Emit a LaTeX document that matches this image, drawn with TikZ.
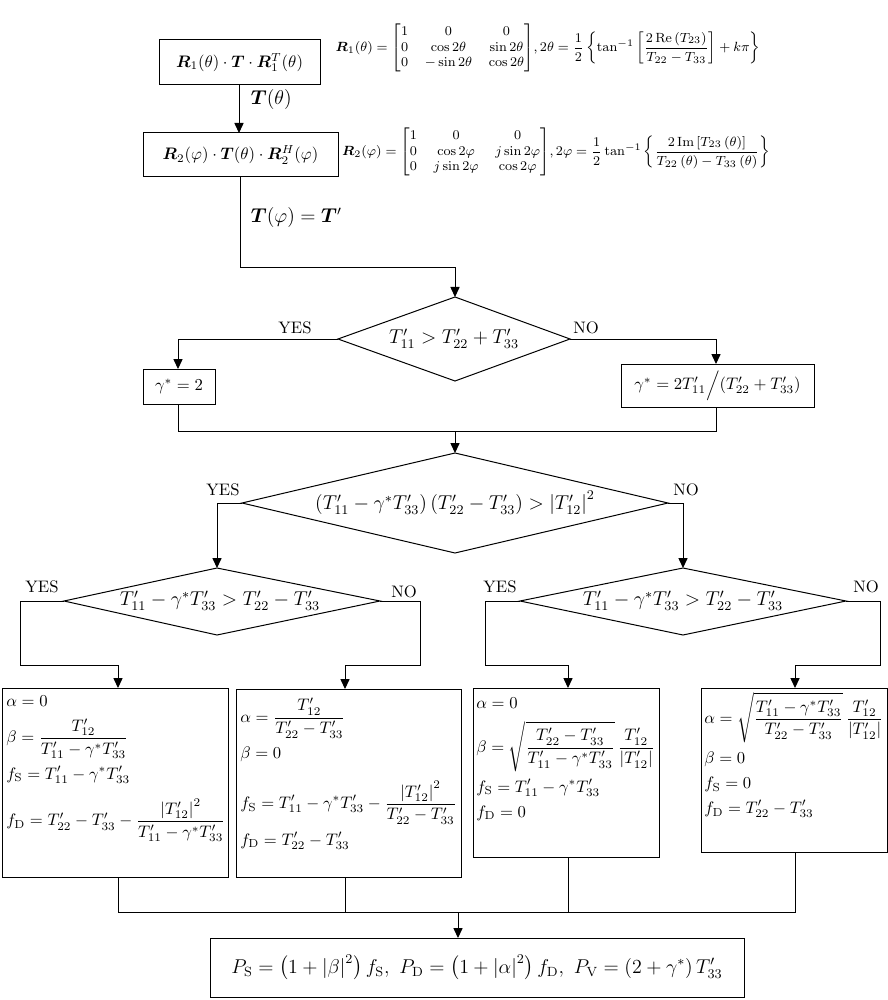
\documentclass[tikz,border=0pt]{standalone}
\usepackage{amsmath,amssymb,bm}
\usetikzlibrary{arrows.meta,shapes.geometric}
\begin{document}
\begin{tikzpicture}[x=0.6pt,y=-0.6pt,
 box/.style={draw,line width=0.6pt,inner sep=0pt},
 dia/.style={draw,line width=0.6pt},
 ln/.style={line width=0.6pt},
 ar/.style={line width=0.6pt,-{Triangle[length=6pt,width=5.5pt]}},
 lab/.style={font=\normalsize}]
\useasboundingbox (0,0) rectangle (887,1000);
% top boxes
\draw[box] (159,40) rectangle (320,85); \node (b1) at (239.5,62.5) {$\bm{R}_{1}\!\left(\theta\right)\cdot\bm{T}\cdot\bm{R}_{1}^{T}\!\left(\theta\right)$};
\node (f1) at (548,48) {\footnotesize$\bm{R}_{1}\!\left(\theta\right)=\begin{bmatrix}1&0&0\\0&\cos2\theta&\sin2\theta\\0&-\sin2\theta&\cos2\theta\end{bmatrix}\!,2\theta=\dfrac12\left\{\tan^{-1}\left[\dfrac{2\,\mathrm{Re}\left(T_{23}\right)}{T_{22}-T_{33}}\right]+k\pi\right\}$};
\draw[box] (143,133) rectangle (338,177); \node (b2) at (240.5,155) {$\bm{R}_{2}\!\left(\varphi\right)\cdot\bm{T}\!\left(\theta\right)\cdot\bm{R}_{2}^{H}\!\left(\varphi\right)$};
\node (f2) at (556,152) {\footnotesize$\bm{R}_{2}\!\left(\varphi\right)=\begin{bmatrix}1&0&0\\0&\cos2\varphi&j\sin2\varphi\\0&j\sin2\varphi&\cos2\varphi\end{bmatrix}\!,2\varphi=\dfrac12\tan^{-1}\left\{\dfrac{2\,\mathrm{Im}\left[T_{23}\left(\theta\right)\right]}{T_{22}\left(\theta\right)-T_{33}\left(\theta\right)}\right\}$};
\draw[ar] (239,85) -- (239,133);
\node[anchor=west] (l1) at (245,100) {\large$\bm{T}\!\left(\theta\right)$};
\draw[ar] (240,177) -- (240,268) -- (455,268) -- (455,297);
\node[anchor=west] (l2) at (245,218) {\large$\bm{T}\!\left(\varphi\right)=\bm{T}'$};
% diamond 1
\draw[dia] (455,297) -- (570,339) -- (455,381) -- (338,339) -- cycle;
\node (d1) at (454,339) {\large$T'_{11}>T'_{22}+T'_{33}$};
\node[lab] (y1) at (295,328) {YES};
\node[lab] (n1) at (586,328) {NO};
\draw[ar] (338,339) -- (178,339) -- (178,369);
\draw[ar] (570,339) -- (716,339) -- (716,364);
\draw[box] (143,369) rectangle (215,404); \node (g1) at (179,386.5) {$\gamma^{*}=2$};
\draw[box] (621,364) rectangle (814,407); \node (g2) at (717.5,385.5) {$\gamma^{*}=2T'_{11}\Big/\!\left(T'_{22}+T'_{33}\right)$};
\draw[ln] (178,404) -- (178,431) -- (716,431) -- (716,407);
\draw[ar] (455,431) -- (455,453);
% diamond 2
\draw[dia] (455,453) -- (668,503) -- (455,553) -- (242,503) -- cycle;
\node (d2) at (455,503) {\large$\left(T'_{11}-\gamma^{*}T'_{33}\right)\left(T'_{22}-T'_{33}\right)>\left|T'_{12}\right|^{2}$};
\node[lab] (y2) at (223,490) {YES};
\node[lab] (n2) at (686,490) {NO};
\draw[ar] (242,503) -- (217,503) -- (217,568);
\draw[ar] (668,503) -- (683,503) -- (683,568);
% diamond 3
\draw[dia] (217,568) -- (380,601) -- (217,635) -- (64,601) -- cycle;
\node (d3) at (220,601) {\large$T'_{11}-\gamma^{*}T'_{33}>T'_{22}-T'_{33}$};
\node[lab] (y3) at (42,587) {YES};
\node[lab] (n3) at (404,592) {NO};
\draw[ar] (64,601) -- (20,601) -- (20,665) -- (118,665) -- (118,688);
\draw[ar] (380,601) -- (420,601) -- (420,665) -- (345,665) -- (345,689);
% diamond 4
\draw[dia] (683,568) -- (846,601) -- (683,635) -- (520,601) -- cycle;
\node (d4) at (683,601) {\large$T'_{11}-\gamma^{*}T'_{33}>T'_{22}-T'_{33}$};
\node[lab] (y4) at (500,587) {YES};
\node[lab] (n4) at (866,587) {NO};
\draw[ar] (520,601) -- (485,601) -- (485,665) -- (568,665) -- (568,688);
\draw[ar] (846,601) -- (880,601) -- (880,665) -- (795,665) -- (795,688);
% result boxes
\draw[box] (2,688) rectangle (228,877);
\node[anchor=north west,align=left,inner sep=0pt] (r1) at (6,692) {$\begin{aligned}[t]&\alpha=0\\&\beta=\dfrac{T'_{12}}{T'_{11}-\gamma^{*}T'_{33}}\\&f_{\mathrm S}=T'_{11}-\gamma^{*}T'_{33}\\[4pt]&f_{\mathrm D}=T'_{22}-T'_{33}-\dfrac{\left|T'_{12}\right|^{2}}{T'_{11}-\gamma^{*}T'_{33}}\end{aligned}$};
\draw[box] (236,689) rectangle (461,877);
\node[anchor=north west,align=left,inner sep=0pt] (r2) at (240,698) {$\begin{aligned}[t]&\alpha=\dfrac{T'_{12}}{T'_{22}-T'_{33}}\\&\beta=0\\[6pt]&f_{\mathrm S}=T'_{11}-\gamma^{*}T'_{33}-\dfrac{\left|T'_{12}\right|^{2}}{T'_{22}-T'_{33}}\\&f_{\mathrm D}=T'_{22}-T'_{33}\end{aligned}$};
\draw[box] (473,688) rectangle (659,857);
\node[anchor=north west,align=left,inner sep=0pt] (r3) at (476,694) {$\begin{aligned}[t]&\alpha=0\\&\beta=\sqrt{\dfrac{T'_{22}-T'_{33}}{T'_{11}-\gamma^{*}T'_{33}}}\,\dfrac{T'_{12}}{\left|T'_{12}\right|}\\&f_{\mathrm S}=T'_{11}-\gamma^{*}T'_{33}\\&f_{\mathrm D}=0\end{aligned}$};
\draw[box] (701,688) rectangle (887,852);
\node[anchor=north west,align=left,inner sep=0pt] (r4) at (704,692) {$\begin{aligned}[t]&\alpha=\sqrt{\dfrac{T'_{11}-\gamma^{*}T'_{33}}{T'_{22}-T'_{33}}}\,\dfrac{T'_{12}}{\left|T'_{12}\right|}\\&\beta=0\\&f_{\mathrm S}=0\\&f_{\mathrm D}=T'_{22}-T'_{33}\end{aligned}$};
\draw[ln] (118,877) -- (118,912) -- (795,912) -- (795,852);
\draw[ln] (345,877) -- (345,912);
\draw[ln] (568,857) -- (568,912);
\draw[ar] (458,912) -- (458,938);
\draw[box] (210,938) rectangle (744,997);
\node (fin) at (477,967.5) {\large$P_{\mathrm S}=\left(1+\left|\beta\right|^{2}\right)f_{\mathrm S},\ P_{\mathrm D}=\left(1+\left|\alpha\right|^{2}\right)f_{\mathrm D},\ P_{\mathrm V}=\left(2+\gamma^{*}\right)T'_{33}$};
\end{tikzpicture}
\end{document}
